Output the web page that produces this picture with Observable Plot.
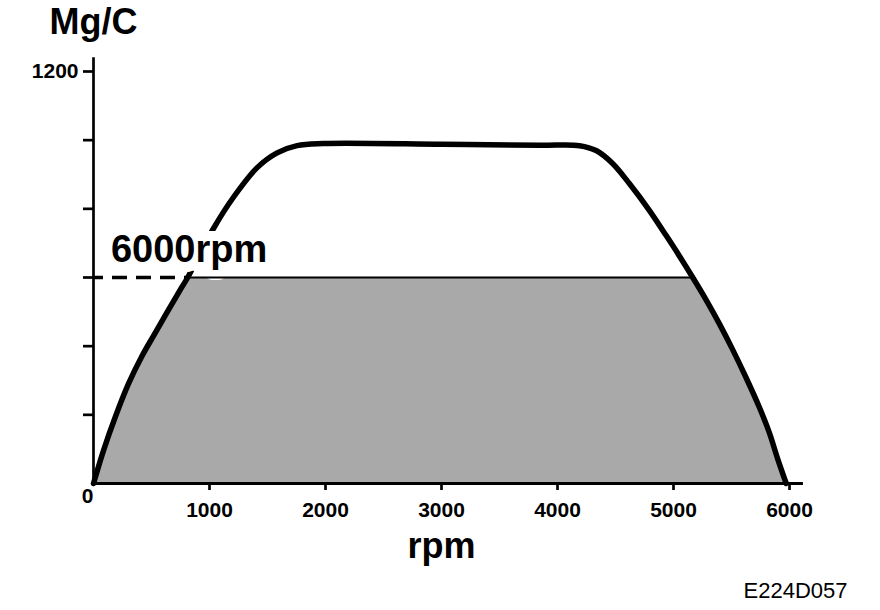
<!DOCTYPE html>
<html>
<head>
<meta charset="utf-8">
<script src="https://cdn.jsdelivr.net/npm/d3@7"></script>
<script src="https://cdn.jsdelivr.net/npm/@observablehq/plot@0.6"></script>
<style>
  html, body { margin: 0; padding: 0; background: white; overflow: hidden; }
  svg g[aria-label="code"] text { letter-spacing: 3px; }
</style>
</head>
<body>
<div id="chart"></div>
<script>
// Data
const rpm = [0, 86, 187, 301, 416, 531, 645, 760, 812, 1033, 1205, 1411, 1583, 1755, 1980, 3000, 3850, 4190, 4337, 4475, 4621, 4793, 4937, 5052, 5166, 5281, 5396, 5510, 5626, 5740, 5826, 5898, 5972];
const mgc = [0, 96, 193, 290, 370, 438, 505, 571, 600, 742, 833, 920, 963, 984, 990, 988, 985, 984, 969, 932, 873, 795, 722, 662, 600, 535, 465, 390, 308, 222, 148, 72, 0];
const limitValue = 600;
const limitLabel = "6000rpm";
const xTicks = [1000, 2000, 3000, 4000, 5000, 6000];
const yTicks = [200, 400, 600, 800, 1000, 1200];
const yTickLabels = {1200: "1200"};
const yTitle = "Mg/C";
const xTitle = "rpm";
const code = "E224D057";

const data = rpm.map((r, i) => ({rpm: r, mgc: mgc[i], clipped: Math.min(mgc[i], limitValue)}));
const crossX = data.find(d => d.mgc === limitValue).rpm;

const font = "'Liberation Sans', Arial, Helvetica, sans-serif";

const plot = Plot.plot({
  width: 880,
  height: 610,
  marginLeft: 93,
  marginRight: 91,
  marginTop: 71,
  marginBottom: 127,
  style: {fontFamily: font, background: "white", color: "black"},
  x: {domain: [0, 6000], label: null},
  y: {domain: [0, 1200], label: null},
  marks: [
    Plot.areaY(data, {x: "rpm", y: "clipped", fill: "#a9a9a9", curve: "linear"}),
    Plot.lineY(data, {x: "rpm", y: "mgc", stroke: "black", strokeWidth: 5.5, curve: "catmull-rom"}),
    Plot.text([limitLabel], {x: 150, y: limitValue, text: d => d, dy: -16, lineAnchor: "bottom", textAnchor: "start",
      fontSize: 38, fontWeight: "bold", fill: "black", stroke: "white", strokeWidth: 20, strokeLinejoin: "round", paintOrder: "stroke"}),
    Plot.lineY(data, {x: "rpm", y: "clipped", stroke: "black", strokeWidth: 2, curve: "linear"}),
    Plot.ruleY([limitValue], {x1: 0, x2: crossX, stroke: "black", strokeWidth: 3.5, strokeDasharray: "15,9", strokeDashoffset: 5}),
    Plot.ruleX([0], {y1: 0, y2: 1240, stroke: "black", strokeWidth: 2.7}),
    Plot.ruleY([0], {x1: 0, x2: 6120, stroke: "black", strokeWidth: 3}),
    Plot.axisY({ticks: yTicks, tickSize: 10, tickPadding: 5, tickFormat: d => yTickLabels[d] ?? "", fontSize: 21, fontWeight: "bold", strokeWidth: 2.7}),
    Plot.axisX({ticks: xTicks, tickSize: 7, tickPadding: 12, tickFormat: d => String(d), fontSize: 21, fontWeight: "bold", strokeWidth: 2.7}),
    Plot.text(["0"], {x: 0, y: 0, text: d => d, textAnchor: "end", lineAnchor: "top", dy: 5, fontSize: 21, fontWeight: "bold"}),
    Plot.text([yTitle], {frameAnchor: "top-left", text: d => d, dx: -44, dy: -38, lineAnchor: "bottom", textAnchor: "start", fontSize: 36, fontWeight: "bold"}),
    Plot.text([xTitle], {x: 3000, frameAnchor: "bottom", text: d => d, dy: 74, lineAnchor: "bottom", textAnchor: "middle", fontSize: 36, fontWeight: "bold"}),
    Plot.text([code], {frameAnchor: "bottom-right", text: d => d, dx: 58, dy: 114, lineAnchor: "bottom", textAnchor: "end", fontSize: 22, fontWeight: "normal", ariaLabel: "code"})
  ]
});

document.getElementById("chart").appendChild(plot);
</script>
</body>
</html>
